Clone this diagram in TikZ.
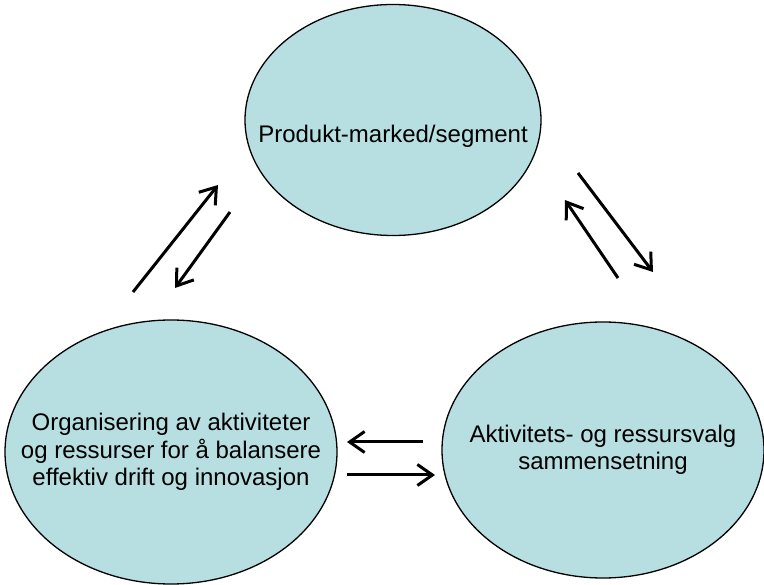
\documentclass[tikz,border=0pt]{standalone}
\usepackage{fontspec}
\setmainfont{Liberation Sans}
\usetikzlibrary{shapes.geometric,arrows.meta}
\definecolor{bobleblaa}{RGB}{183,222,225}

\begin{document}
\begin{tikzpicture}[x=1pt,y=-1pt]
\tikzstyle{every node}+=[inner sep=0pt, font=\fontsize{24}{27.5}\selectfont, align=center]
\tikzstyle{boble}=[ellipse, draw=black, line width=1.3pt, fill=bobleblaa, inner xsep=-40pt]
\tikzstyle{pil}=[black, line width=3pt, -{Straight Barb[length=15pt,width=21pt]}]
\useasboundingbox (0,0) rectangle (764,585);
\node [boble, minimum width=296pt, minimum height=231pt, text height=46pt, text depth=0pt] (marked) at (393,120) {Produkt-marked/segment};
\node [boble, minimum width=332pt, minimum height=264pt] (organ) at (171,452) {Organisering av aktiviteter\\og ressurser for å balansere\\effektiv drift og innovasjon};
\node [boble, minimum width=322pt, minimum height=256pt] (valg) at (603,450) {Aktivitets- og ressursvalg\\sammensetning};
\coordinate (v1) at (133,292);
\coordinate (v2) at (218,185);
\coordinate (v3) at (230,212);
\coordinate (v4) at (175,288);
\coordinate (h1) at (578,173);
\coordinate (h2) at (653,272);
\coordinate (h3) at (618,278);
\coordinate (h4) at (565,200);
\coordinate (n1) at (423,442);
\coordinate (n2) at (347,442);
\coordinate (n3) at (347,475);
\coordinate (n4) at (435,475);
\draw [pil] (v1) -- (v2);
\draw [pil] (v3) -- (v4);
\draw [pil] (h1) -- (h2);
\draw [pil] (h3) -- (h4);
\draw [pil] (n1) -- (n2);
\draw [pil] (n3) -- (n4);
\end{tikzpicture}
\end{document}
